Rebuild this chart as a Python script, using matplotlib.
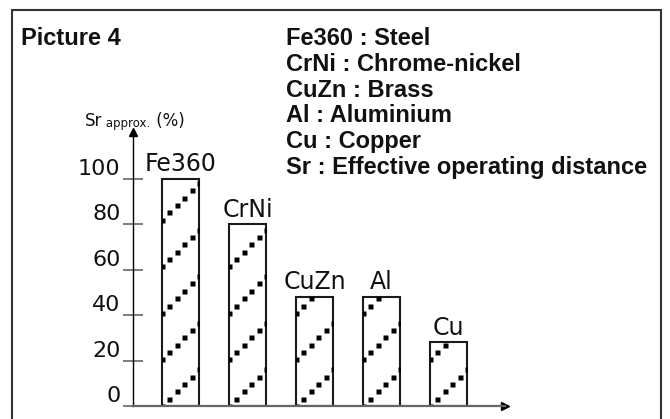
import matplotlib.pyplot as plt
from matplotlib.patches import Rectangle
import numpy as np

# Data
materials = ['Fe360', 'CrNi', 'CuZn', 'Al', 'Cu']
sr_values = [100, 80, 48, 48, 28]
y_ticks = [0, 20, 40, 60, 80, 100]
legend_lines = ['Fe360 : Steel', 'CrNi : Chrome-nickel', 'CuZn : Brass',
                'Al : Aluminium', 'Cu : Copper', 'Sr : Effective operating distance']

plt.rcParams['font.family'] = ['DejaVu Sans']
thin = 'normal'
ink = '#111111'

W, H = 670, 419
fig = plt.figure(figsize=(W / 100, H / 100), dpi=100)

# axes box in pixels: y axis at x=133, baseline at 406 px from top
ax = fig.add_axes([133 / W, 13 / H, 372 / W, 274 / H])
xlim = (-0.709, 4.843)
ylim = (0, 120.7)
ax.set_xlim(*xlim)
ax.set_ylim(*ylim)

x = np.arange(len(materials))
bar_w = 0.55
bars = ax.bar(x, sr_values, width=bar_w, fill=False, edgecolor='#1a1a1a', linewidth=1.5)

# dotted diagonal hatch, drawn as little squares clipped to each bar
px_x = 372 / (xlim[1] - xlim[0])
px_y = 274 / (ylim[1] - ylim[0])
rise = bar_w * px_x / px_y
for bar in bars:
    x0, w, h = bar.get_x(), bar.get_width(), bar.get_height()
    for y0 in np.arange(0, h, 20.5):
        xs = np.linspace(x0, x0 + w, 6)
        ys = np.linspace(y0, y0 + rise, 6)
        dots, = ax.plot(xs, ys, 's', color='black', ms=3.6, mec='none')
        dots.set_clip_path(bar)

# bar names
for xi, v, name in zip(x, sr_values, materials):
    ax.text(xi, v + 1.2, name, ha='center', va='bottom', fontsize=17,
            fontweight=thin, color=ink)

# axes styling
for s in ['top', 'right']:
    ax.spines[s].set_visible(False)
ax.spines['left'].set_color('black')
ax.spines['left'].set_linewidth(1.0)
ax.spines['bottom'].set_color('#666666')
ax.spines['bottom'].set_linewidth(1.6)
ax.set_xticks([])
ax.set_yticks(y_ticks)
ax.tick_params(axis='y', direction='inout', length=14, width=1.2, color='#666666',
               pad=2, labelsize=16, labelcolor=ink)
for lbl in ax.get_yticklabels():
    lbl.set_va('bottom')
    lbl.set_fontweight(thin)

ax.plot(1, 0, '>', color='black', ms=6, transform=ax.transAxes, clip_on=False)
ax.plot(0, 1, '^', color='black', ms=6, transform=ax.transAxes, clip_on=False)

# axis title "Sr approx. (%)"
t1 = fig.text(85 / W, 1 - 126 / H, 'Sr', fontsize=12, fontweight=thin, va='baseline', color=ink)
t2 = ax.annotate(' approx.', xy=(1, 0), xycoords=t1, va='bottom', fontsize=8.5,
                 fontweight=thin, color=ink, annotation_clip=False)
ax.annotate(' (%)', xy=(1, 0), xycoords=t2, va='bottom', fontsize=12,
            fontweight=thin, color=ink, annotation_clip=False)

# header texts
bold = dict(fontsize=17, fontweight='bold', family='Liberation Sans', color=ink, va='baseline')
fig.text(21 / W, 1 - 45 / H, 'Picture 4', **bold)
for i, line in enumerate(legend_lines):
    fig.text(286 / W, 1 - (45 + i * 25.8) / H, line, **bold)

# outer frame, open at the bottom
frame = Rectangle((12 / W, -0.1), (661 - 12) / W, 1 - 10 / H + 0.1,
                  transform=fig.transFigure, fill=False, ec='#333333', lw=1.5)
fig.add_artist(frame)

fig.savefig('out.png', dpi=100, facecolor='white')
